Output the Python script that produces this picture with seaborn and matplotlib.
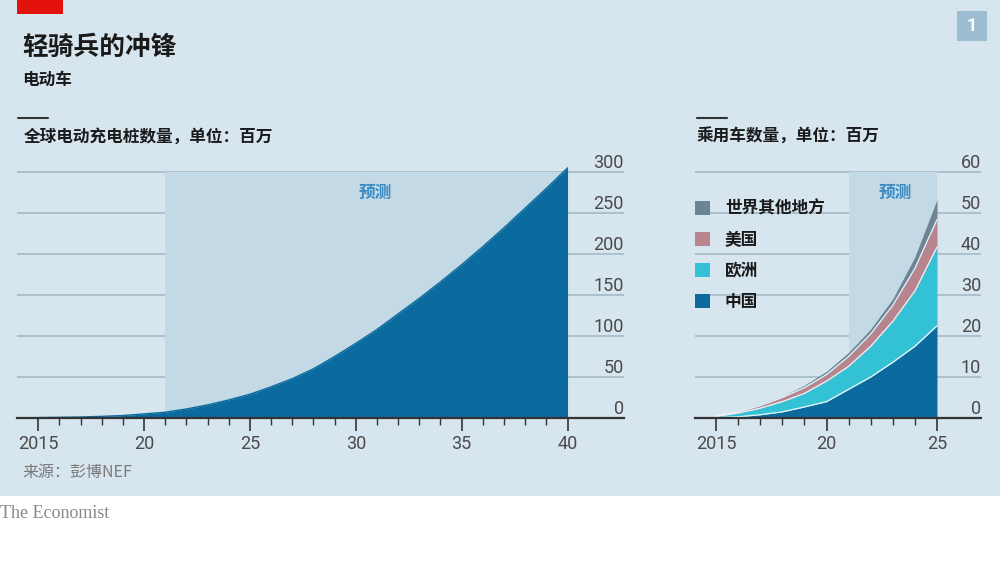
import matplotlib
matplotlib.use("Agg")
import matplotlib.pyplot as plt
import seaborn as sns
import numpy as np
import pandas as pd
from matplotlib.patches import Rectangle, Patch

# ---------------- data ----------------
years_chargers = list(range(2015, 2041))
chargers = [0.5, 0.8, 1.2, 2, 3, 5, 7, 11, 16, 22, 29, 38, 48, 60, 75, 91,
            108, 127, 146, 166, 187, 209, 232, 256, 280, 305]

years_cars = list(range(2015, 2026))
china = [0.1, 0.3, 0.8, 1.5, 2.7, 4.0, 7.0, 10.0, 13.6, 17.5, 22.5]
europe = [0.3, 0.9, 1.6, 2.5, 3.3, 5.0, 5.6, 7.5, 10.0, 13.5, 19.2]
usa = [0.1, 0.3, 0.6, 1.0, 1.4, 1.6, 2.4, 3.0, 3.9, 5.5, 6.7]
rest = [0.1, 0.2, 0.3, 0.3, 0.6, 0.8, 1.0, 1.2, 1.6, 2.8, 4.9]
series_names = ["中国", "欧洲", "美国", "世界其他地方"]

left_yticks = [0, 50, 100, 150, 200, 250, 300]
right_yticks = [0, 10, 20, 30, 40, 50, 60]
left_xticks = [2015, 2020, 2025, 2030, 2035, 2040]
left_xlabels = ["2015", "20", "25", "30", "35", "40"]
right_xticks = [2015, 2020, 2025]
right_xlabels = ["2015", "20", "25"]
forecast_left = (2021, 2040)
forecast_right = (2021, 2025)

# ---------------- style ----------------
BG = "#d7e5ef"
SHADE = "#c3d9e6"
GRID = "#a9bdca"
DARK = "#0b6b9e"
CYAN = "#33c1d6"
PINK = "#b8858f"
SLATE = "#6c8493"
TXT = "#1a1a1a"
TICKTXT = "#4a4a4a"

sns.set_theme(style="white")
CJK = ["Noto Sans CJK SC", "DejaVu Sans"]
NUM = ["Liberation Sans Narrow", "Roboto", "DejaVu Sans"]
plt.rcParams["font.family"] = CJK

W, H = 1000, 563
fig = plt.figure(figsize=(W / 100, H / 100), dpi=100)
fig.patch.set_facecolor("white")

# blue background panel
fig.add_artist(Rectangle((0, 1 - 496 / H), 1, 496 / H, transform=fig.transFigure,
                         facecolor=BG, edgecolor="none", zorder=-10))
# red tag
fig.add_artist(Rectangle((17 / W, 1 - 14 / H), 46 / W, 14 / H, transform=fig.transFigure,
                         facecolor="#e3120b", edgecolor="none"))
# badge
fig.add_artist(Rectangle((957 / W, 1 - 41 / H), 30 / W, 30 / H, transform=fig.transFigure,
                         facecolor="#9dbdd3", edgecolor="none"))
fig.text(972 / W, 1 - 26 / H, "1", color="white", fontsize=13, fontweight="bold",
         ha="center", va="center", family=NUM)

# titles
fig.text(22 / W, 1 - 47 / H, "轻骑兵的冲锋", fontsize=18.5, fontweight="bold", color=TXT,
         ha="left", va="center")
fig.text(22 / W, 1 - 80 / H, "电动车", fontsize=12, fontweight="bold", color=TXT,
         ha="left", va="center")
for x0 in (18, 697):
    fig.add_artist(plt.Line2D([x0 / W, (x0 + 30) / W], [1 - 118 / H, 1 - 118 / H],
                              transform=fig.transFigure, color="#333333", lw=1.5))
fig.text(24 / W, 1 - 137 / H, "全球电动充电桩数量，单位：百万", fontsize=12, fontweight="bold",
         color=TXT, ha="left", va="center")
fig.text(697 / W, 1 - 137 / H, "乘用车数量，单位：百万", fontsize=12, fontweight="bold",
         color=TXT, ha="left", va="center")
fig.text(22 / W, 1 - 472 / H, "来源：彭博NEF", fontsize=11.5, color="#7a7a7a",
         ha="left", va="center")
fig.text(0 / W, 1 - 513 / H, "The Economist", fontsize=13, color="#8a8a8a",
         ha="left", va="center", family=["Liberation Serif", "DejaVu Serif"])

# axes geometry
y0_px = 418
px_per_unit_left = 246 / 300
top_val_left = 310
ax_top_px = y0_px - top_val_left * px_per_unit_left
bottom = 1 - y0_px / H
height = (y0_px - ax_top_px) / H


def style_axis(ax, xlim, ylim, yticks, xt, xl, minor_range):
    ax.set_facecolor("none")
    ax.set_xlim(*xlim)
    ax.set_ylim(*ylim)
    for s in ["top", "right", "left"]:
        ax.spines[s].set_visible(False)
    ax.spines["bottom"].set_color("#333333")
    ax.spines["bottom"].set_linewidth(1.6)
    ax.spines["bottom"].set_zorder(6)
    ax.set_yticks(yticks)
    ax.set_yticklabels([])
    ax.tick_params(axis="y", length=0)
    ax.yaxis.grid(True, color=GRID, lw=1.3, zorder=0)
    ax.xaxis.grid(False)
    ax.set_axisbelow(True)
    ax.set_xticks(xt)
    ax.set_xticklabels(xl, fontsize=13, color=TICKTXT, family=NUM)
    ax.set_xticks(list(range(minor_range[0], minor_range[1] + 1)), minor=True)
    ax.tick_params(axis="x", which="major", direction="out", length=9, width=1.2,
                   color="#333333", pad=3, bottom=True)
    ax.tick_params(axis="x", which="minor", direction="out", length=5, width=1.0,
                   color="#333333", bottom=True)
    for v in yticks:
        ax.text(1.0, v, str(v), transform=ax.get_yaxis_transform(), ha="right",
                va="bottom", fontsize=13, color=TICKTXT, family=NUM)
    ax.set_xlabel("")
    ax.set_ylabel("")


# ---------------- left chart ----------------
axL = fig.add_axes([17 / W, bottom, (624 - 17) / W, height])
style_axis(axL, (2014 - 0.0, 2040 + 56 / 21), (0, top_val_left), left_yticks,
           left_xticks, left_xlabels, (years_chargers[0], years_chargers[-1]))
axL.fill_between(list(forecast_left), 0, left_yticks[-1], color=SHADE, lw=0, zorder=1)
axL.text(np.mean(forecast_left) + 0.4, 274, "预测", color="#3b8cc4", fontsize=12,
         ha="center", va="center", fontweight="bold")
dfL = pd.DataFrame({"year": years_chargers, "n": chargers})
axL.fill_between(dfL["year"], 0, dfL["n"], color=DARK, lw=0, zorder=3)
sns.lineplot(data=dfL, x="year", y="n", ax=axL, color=DARK, lw=1, zorder=4)
axL.set_xlabel("")
axL.set_ylabel("")

# ---------------- right chart ----------------
scale_r = 5
axR = fig.add_axes([695 / W, bottom, (981 - 695) / W, height])
style_axis(axR, (2015 - 21 / 22.1, 2025 + 44 / 22.1), (0, top_val_left / scale_r),
           right_yticks, right_xticks, right_xlabels, (years_cars[0], years_cars[-1]))
axR.fill_between(list(forecast_right), 0, right_yticks[-1], color=SHADE, lw=0, zorder=1)
axR.text(np.mean(forecast_right) + 0.1, 55, "预测", color="#3b8cc4", fontsize=12,
         ha="center", va="center", fontweight="bold")
# mask gridlines behind legend
axR.add_patch(Rectangle((axR.get_xlim()[0], 25), forecast_right[0] - axR.get_xlim()[0], 40,
                        facecolor=BG, edgecolor="none", zorder=0.5))
colors = [DARK, CYAN, PINK, SLATE]
axR.stackplot(years_cars, china, europe, usa, rest, colors=colors, lw=0, zorder=3)
cum = np.cumsum(np.array([china, europe, usa]), axis=0)
dfR = pd.DataFrame({"year": years_cars * 3,
                    "v": np.concatenate(cum),
                    "s": sum([[n] * len(years_cars) for n in series_names[:3]], [])})
sns.lineplot(data=dfR, x="year", y="v", units="s", estimator=None, ax=axR,
             color="#e8f4f8", lw=0.9, zorder=4, legend=False)
axR.set_xlabel("")
axR.set_ylabel("")

handles = [Patch(facecolor=c, edgecolor="none") for c in colors[::-1]]
leg = axR.legend(handles, series_names[::-1], loc="upper left",
                 bbox_to_anchor=(0.0, 0.858), frameon=False, fontsize=12,
                 handlelength=0.9, handleheight=0.9, handletextpad=0.9,
                 labelspacing=0.78, borderaxespad=0, borderpad=0)
for t in leg.get_texts():
    t.set_fontweight("bold")
    t.set_color(TXT)

fig.savefig("out.png", dpi=100, facecolor="white")
